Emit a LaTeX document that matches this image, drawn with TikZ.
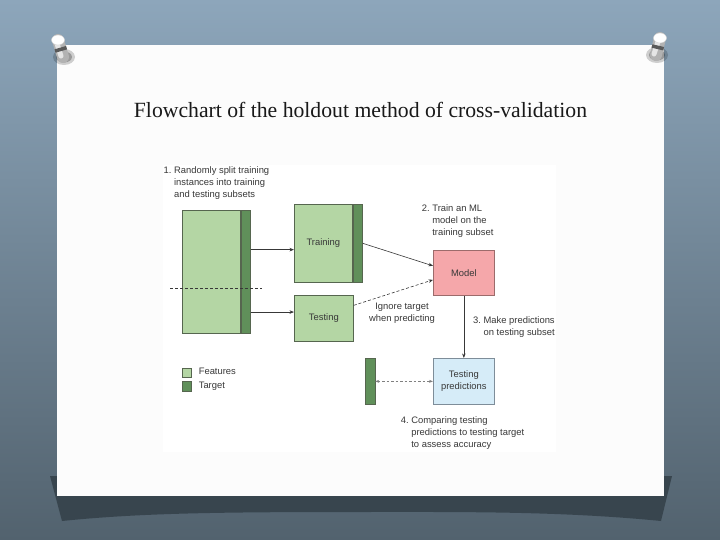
\documentclass[tikz,border=0pt]{standalone}
\usepackage{fontspec}
\setmainfont{Liberation Serif}
\setsansfont{Liberation Sans}
\usetikzlibrary{arrows.meta,positioning}

\definecolor{slatetop}{HTML}{8DA6BB}
\definecolor{slatemid}{HTML}{6D8599}
\definecolor{slatebot}{HTML}{52626E}
\definecolor{shadowgray}{HTML}{38454E}
\definecolor{featgreen}{HTML}{B4D6A4}
\definecolor{targgreen}{HTML}{60905A}
\definecolor{boxline}{HTML}{56664F}
\definecolor{modelpink}{HTML}{F5A7AA}
\definecolor{modelline}{HTML}{9C6B6B}
\definecolor{predblue}{HTML}{D6ECF8}
\definecolor{predline}{HTML}{7E8D99}
\definecolor{txtgray}{HTML}{383838}

\newcommand{\numbered}[2]{\begin{tabular}[t]{@{}l@{\ }l@{}}#1.&#2\end{tabular}}

\tikzset{
	feat/.style={draw=boxline,fill=featgreen,line width=0.7pt,inner sep=0pt,text=txtgray},
	targ/.style={draw=boxline,fill=targgreen,line width=0.7pt,inner sep=0pt,minimum width=9.5pt},
	lbl/.style={font=\sffamily\fontsize{9.4}{12}\selectfont,text=txtgray,inner sep=0pt},
	arr/.style={-{Stealth[length=4.5pt,width=3.5pt]},draw=txtgray,line width=0.6pt},
	dasharr/.style={arr,dash pattern=on 3pt off 2pt},
	cmparr/.style={{Stealth[length=4pt,width=3pt]}-{Stealth[length=4pt,width=3pt]},draw=gray,line width=0.6pt,dash pattern=on 2.5pt off 2pt},
	cutline/.style={draw=txtgray,line width=0.6pt,dash pattern=on 3pt off 2pt}
}

\begin{document}
\begin{tikzpicture}[x=1pt,y=-1pt]
	\useasboundingbox (0,0) rectangle (720,540);
	% slide background
	\shade[top color=slatetop,middle color=slatemid,bottom color=slatebot] (0,0) rectangle (720,540);
	\fill[shadowgray] (50,476) -- (672,476) -- (661,521) .. controls (560,511) and (460,512) .. (360,512)
		.. controls (220,512) and (140,513) .. (62,521) -- cycle;
	\fill[white!98!gray] (57,45) rectangle (664,496);
	\fill[white] (163,165) rectangle (556,452);
	% pins
	\foreach \cx/\cy/\bx/\by in {58/40/63/57, 660/38/656/55}{
		\fill[black,opacity=0.18] (\bx+1,\by) ellipse (11pt and 8pt);
		\fill[black,opacity=0.25] (\bx+1,\by) ellipse (8pt and 5.5pt);
		\draw[gray!60,line width=12pt,line cap=round] (\cx,\cy) -- (\bx,\by);
		\draw[gray!20,line width=5pt,line cap=round] (\cx-1.5,\cy+2) -- (\bx-2,\by-1);
		\draw[black!65,line width=12pt] ({\cx+0.45*(\bx-\cx)},{\cy+0.45*(\by-\cy)}) -- ({\cx+0.65*(\bx-\cx)},{\cy+0.65*(\by-\cy)});
		\fill[white,draw=gray!35] (\cx,\cy) ellipse (6.5pt and 5pt);
	}
	% title
	\node[font=\fontsize{21.7}{26}\selectfont,anchor=base,text=black!90] (title) at (360.5,118) {Flowchart of the holdout method of cross-validation};

	% step 1: full training set
	\node[lbl,anchor=base west] (stepone) at (163.5,173.5) {\numbered{1}{Randomly split training\\&instances into training\\&and testing subsets}};
	\node[feat,anchor=north west,minimum width=58pt,minimum height=123pt] (splitF) at (182,210) {};
	\node[targ,minimum height=123pt,right=0pt of splitF] (splitT) {};
	\draw[cutline] (170,288) -- (262,288);

	% training and testing subsets
	\node[feat,anchor=north west,minimum width=58pt,minimum height=78pt] (trainF) at (294,204) {\sffamily\fontsize{9.4}{12}\selectfont Training};
	\node[targ,minimum height=78pt,right=0pt of trainF] (trainT) {};
	\node[feat,anchor=north west,minimum width=59pt,minimum height=46pt] (testF) at (294,295) {\sffamily\fontsize{9.4}{12}\selectfont Testing};
	\coordinate (trainIn) at ([yshift=-6.3pt]trainF.west);
	\coordinate (testIn) at ([yshift=6.3pt]testF.west);
	\draw[arr] (splitT.east |- trainIn) -- (trainIn);
	\draw[arr] (splitT.east |- testIn) -- (testIn);

	% step 2: model
	\node[lbl,anchor=base west] (steptwo) at (421.7,211.5) {\numbered{2}{Train an ML\\&model on the\\&training subset}};
	\node[draw=modelline,fill=modelpink,line width=0.7pt,anchor=north west,minimum width=61pt,minimum height=45pt,lbl] (model) at (433,250) {Model};
	\draw[arr] (trainT.east) -- ([yshift=7pt]model.west);
	\draw[dasharr] ([yshift=13pt]testF.east) -- ([yshift=-7pt]model.west);
	\node[lbl,align=center,anchor=base] (ignore) at (402,321) {Ignore target\\when predicting};

	% step 3: predictions
	\node[lbl,anchor=base west] (stepthree) at (473,323.5) {\numbered{3}{Make predictions\\&on testing subset}};
	\node[draw=predline,fill=predblue,line width=0.7pt,anchor=north west,minimum width=61pt,minimum height=46pt,lbl,align=center] (pred) at (433,358) {Testing\\predictions};
	\draw[arr] (model.south) -- (pred.north);

	% step 4: compare with testing target
	\node[targ,anchor=north west,minimum height=46pt] (predT) at (365,358) {};
	\draw[cmparr] (predT.east) -- (pred.west);
	\node[lbl,anchor=base west] (stepfour) at (400.7,423.5) {\numbered{4}{Comparing testing\\&predictions to testing target\\&to assess accuracy}};

	% legend
	\foreach \c/\y/\t in {featgreen/372.5/Features, targgreen/386.2/Target}{
		\node[draw=boxline,fill=\c,line width=0.6pt,minimum size=9.4pt,inner sep=0pt] (key\t) at (187,\y) {};
		\node[lbl,text height=6.8pt,text depth=2pt,right=6.6pt of key\t] (keylbl\t) {\t};
	}
\end{tikzpicture}
\end{document}
